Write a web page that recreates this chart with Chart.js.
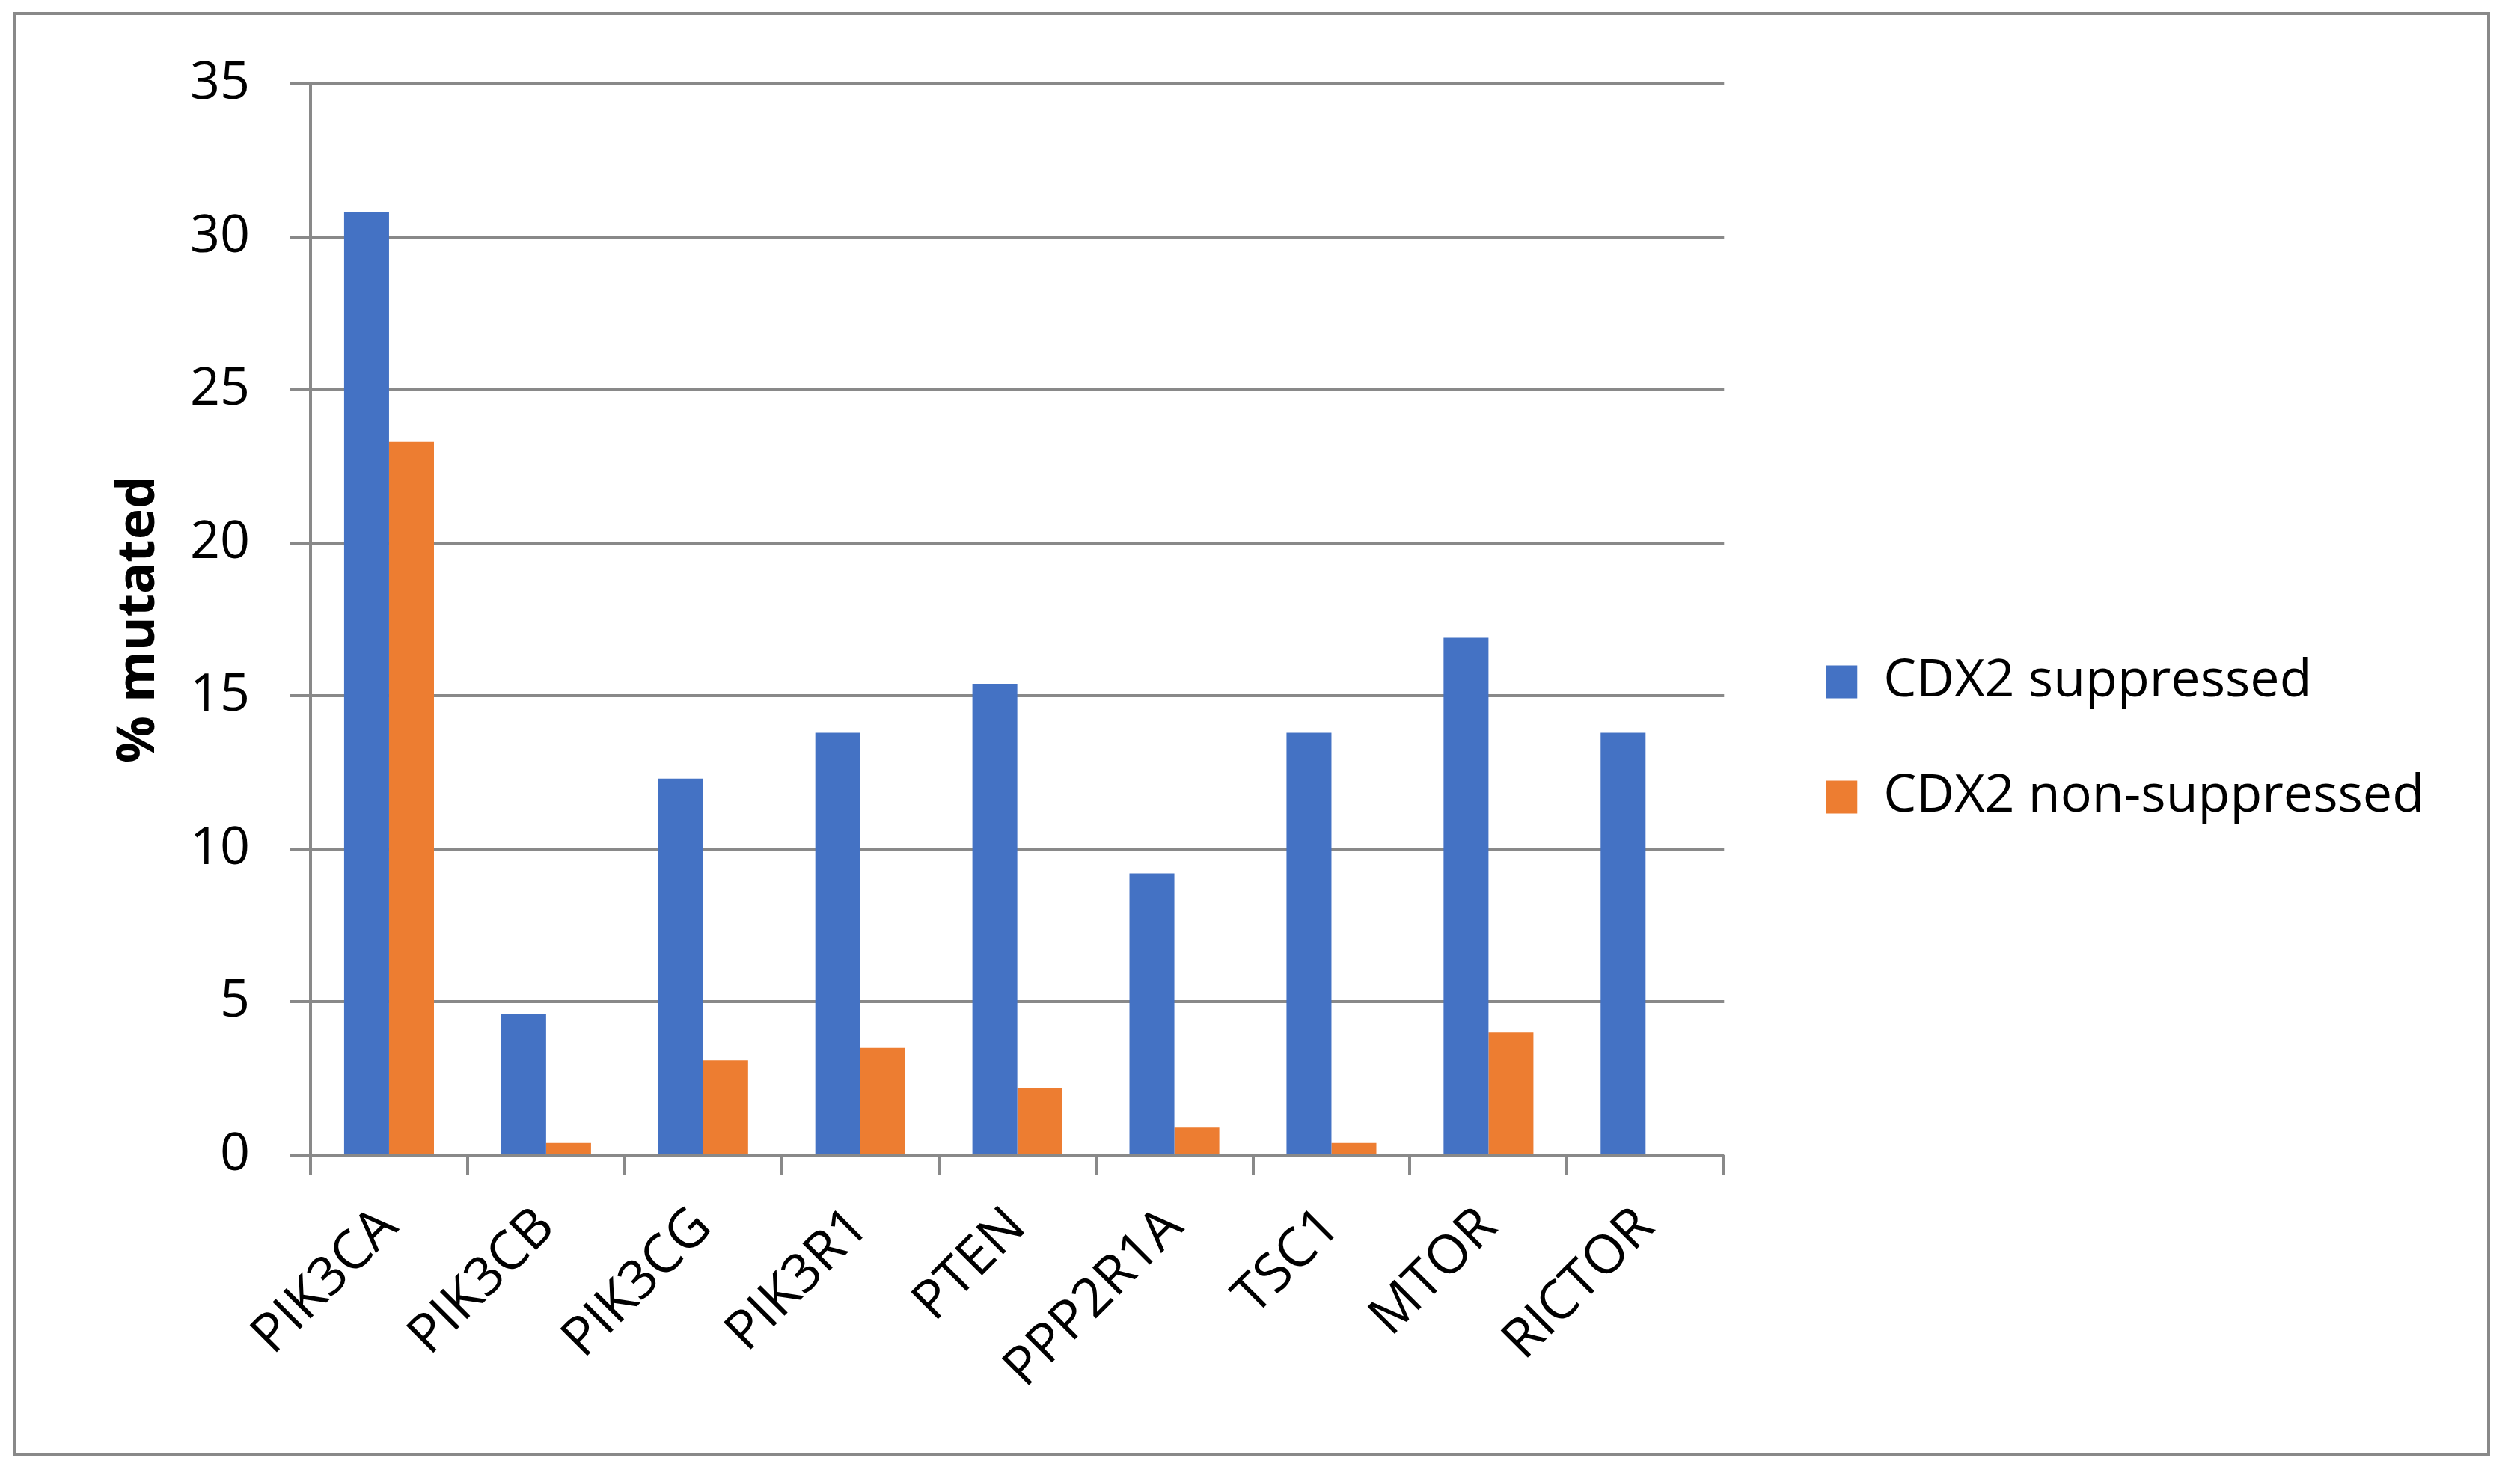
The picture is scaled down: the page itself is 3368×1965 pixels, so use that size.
<!DOCTYPE html>
<html>
<head>
<meta charset="utf-8">
<script src="https://cdn.jsdelivr.net/npm/chart.js@4.4.1/dist/chart.umd.min.js"></script>
<style>
  html, body { margin: 0; padding: 0; background: #fff; }
  #wrap { width: 3368px; height: 1965px; }
</style>
</head>
<body>
<div id="wrap"><canvas id="grafik"></canvas></div>
<script>
// data
const genes = ['PIK3CA', 'PIK3CB', 'PIK3CG', 'PIK3R1', 'PTEN', 'PPP2R1A', 'TSC1', 'MTOR', 'RICTOR'];
const suppressed = [30.8, 4.6, 12.3, 13.8, 15.4, 9.2, 13.8, 16.9, 13.8];
const nonSuppressed = [23.3, 0.4, 3.1, 3.5, 2.2, 0.9, 0.4, 4.0, 0];
const yTicks = [0, 5, 10, 15, 20, 25, 30, 35];

const abu = '#898989';
const fontFam = '"Open Sans", "Noto Sans", sans-serif';

// bingkai luar + latar putih
const bingkai = {
    id: 'bingkai',
    beforeDraw(chart) {
        const ctx = chart.ctx;
        ctx.save();
        ctx.fillStyle = '#fff';
        ctx.fillRect(0, 0, chart.width, chart.height);
        ctx.strokeStyle = abu;
        ctx.lineWidth = 4;
        ctx.strokeRect(20, 18, 3306, 1926);
        ctx.restore();
    }
};

const ctx = document.getElementById('grafik').getContext('2d');
window.chart = new Chart(ctx, {
    type: 'bar',
    data: {
        labels: genes,
        datasets: [{
            label: 'CDX2 suppressed',
            data: suppressed,
            backgroundColor: '#4472C4',
            borderWidth: 0
        }, {
            label: 'CDX2 non-suppressed',
            data: nonSuppressed,
            backgroundColor: '#ED7D31',
            borderWidth: 0
        }]
    },
    options: {
        responsive: true,
        maintainAspectRatio: false,
        animation: false,
        devicePixelRatio: 1,
        layout: { padding: { left: 144, top: 112, right: 118, bottom: 100 } },
        datasets: {
            bar: { categoryPercentage: 0.572, barPercentage: 1 }
        },
        plugins: {
            tooltip: { enabled: false },
            legend: {
                position: 'right',
                align: 'center',
                maxWidth: 1400,
                labels: {
                    boxWidth: 42,
                    boxHeight: 44,
                    padding: 84,
                    color: '#000',
                    font: { family: fontFam, size: 70 }
                }
            }
        },
        scales: {
            x: {
                offset: true,
                grid: {
                    display: true,
                    drawOnChartArea: false,
                    offset: true,
                    color: abu,
                    lineWidth: 4,
                    tickLength: 26
                },
                border: { display: false },
                ticks: {
                    color: '#000',
                    font: { family: fontFam, size: 72 },
                    maxRotation: 45,
                    minRotation: 45,
                    padding: 28,
                    autoSkip: false
                },
                afterFit(s) { s.height = 1965 - 100 - 1544; }
            },
            y: {
                min: 0,
                max: 35,
                afterBuildTicks(s) { s.ticks = yTicks.map(v => ({ value: v })); },
                grid: {
                    color: abu,
                    lineWidth: 4,
                    tickLength: 27
                },
                border: { display: true, color: abu, width: 4 },
                ticks: {
                    color: '#000',
                    font: { family: fontFam, size: 70 },
                    padding: 54
                },
                title: {
                    display: true,
                    text: '% mutated',
                    color: '#000',
                    font: { family: fontFam, size: 70, weight: 'bold' },
                    padding: 0
                },
                afterFit(s) { s.width = 415 - 144; }
            },
            gap: {
                type: 'linear',
                position: 'right',
                display: true,
                grid: { display: false },
                border: { display: false },
                ticks: { display: false },
                afterFit(s) { s.width = 52; }
            }
        }
    },
    plugins: [bingkai]
});
</script>
</body>
</html>
